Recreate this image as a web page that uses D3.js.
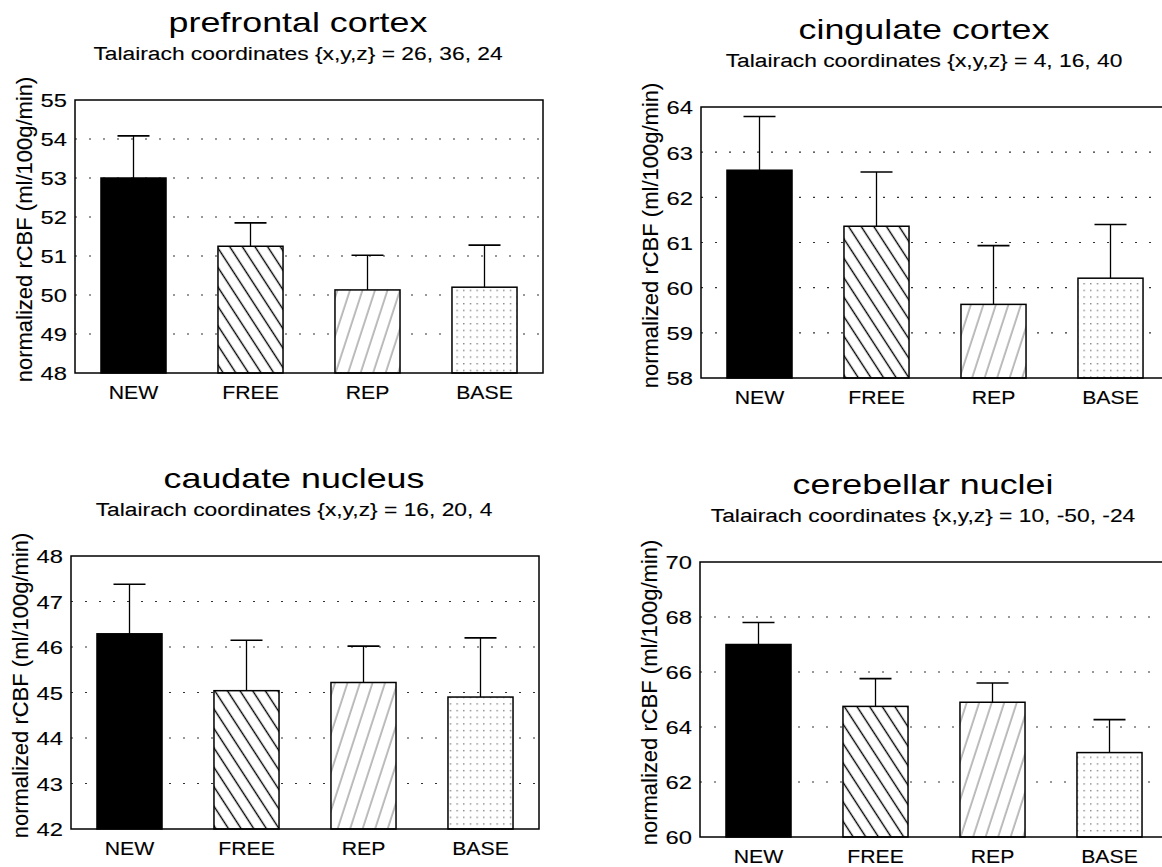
<!DOCTYPE html>
<html>
<head>
<meta charset="utf-8">
<script src="https://cdn.jsdelivr.net/npm/d3@7"></script>
<style>
    body { margin: 0; background: #fff; }
    svg { display: block; font-family: 'Liberation Sans', Arial, Helvetica, sans-serif; }
    text.lbl { stroke: #000; stroke-width: 0.12px; }
</style>
</head>
<body>
<svg id="chart" width="1162" height="867"></svg>
<script>
// conditions and regions
var conditions = ["NEW", "FREE", "REP", "BASE"];
var regions = ["prefrontal cortex", "cingulate cortex", "caudate nucleus", "cerebellar nuclei"];
var coordinates = ["26, 36, 24", "4, 16, 40", "16, 20, 4", "10, -50, -24"];

// mean rCBF and upper error (ml/100g/min)
var prefrontalMean = [53.0, 51.25, 50.13, 50.2];
var prefrontalErr  = [1.08, 0.6, 0.89, 1.08];
var cingulateMean  = [62.6, 61.36, 59.63, 60.21];
var cingulateErr   = [1.19, 1.2, 1.3, 1.19];
var caudateMean    = [46.29, 45.04, 45.22, 44.9];
var caudateErr     = [1.09, 1.11, 0.8, 1.3];
var cerebellarMean = [67.0, 64.75, 64.9, 63.07];
var cerebellarErr  = [0.8, 1.01, 0.7, 1.2];

// y axis ranges and tick labels
var prefrontalTicks = [48, 49, 50, 51, 52, 53, 54, 55];
var cingulateTicks  = [58, 59, 60, 61, 62, 63, 64];
var caudateTicks    = [42, 43, 44, 45, 46, 47, 48];
var cerebellarTicks = [60, 62, 64, 66, 68, 70];

var means = [prefrontalMean, cingulateMean, caudateMean, cerebellarMean];
var errs = [prefrontalErr, cingulateErr, caudateErr, cerebellarErr];
var ticks = [prefrontalTicks, cingulateTicks, caudateTicks, cerebellarTicks];

// frame position of each panel
var layout = [
    {left: 75, top: 100, bottom: 373},
    {left: 701, top: 107, bottom: 378},
    {left: 71, top: 556, bottom: 829},
    {left: 700, top: 562, bottom: 837}
];
var plotW = 468;

var svg = d3.select("#chart");
svg.append("rect").attr("width", 1162).attr("height", 867).attr("fill", "#fff");

// fill patterns
var defs = svg.append("defs");
defs.append("pattern").attr("id", "hatchFree")
    .attr("patternUnits", "userSpaceOnUse")
    .attr("width", 10.6).attr("height", 10)
    .attr("patternTransform", "rotate(-33)")
  .append("line")
    .attr("x1", 5.3).attr("x2", 5.3).attr("y1", -1).attr("y2", 11)
    .attr("stroke", "#000").attr("stroke-width", 1.4);

defs.append("pattern").attr("id", "hatchRep")
    .attr("patternUnits", "userSpaceOnUse")
    .attr("width", 11.9).attr("height", 10)
    .attr("patternTransform", "rotate(18)")
  .append("line")
    .attr("x1", 6).attr("x2", 6).attr("y1", -1).attr("y2", 11)
    .attr("stroke", "#555").attr("stroke-width", 0.8);

defs.append("pattern").attr("id", "dotsBase")
    .attr("patternUnits", "userSpaceOnUse")
    .attr("width", 6.67).attr("height", 6.67)
  .append("rect")
    .attr("x", 3).attr("y", 3).attr("width", 1.2).attr("height", 1.2)
    .attr("fill", "#555");

var fills = {NEW: "#000", FREE: "url(#hatchFree)", REP: "url(#hatchRep)", BASE: "url(#dotsBase)"};

regions.forEach(function(region, p) {
    var L = layout[p];
    var t = ticks[p];
    var cx = L.left + 223;

    var x = d3.scaleBand()
        .domain(conditions)
        .range([L.left, L.left + plotW])
        .paddingInner(0.444)
        .paddingOuter(0.222);
    var y = d3.scaleLinear()
        .domain([t[0], t[t.length - 1]])
        .range([L.bottom, L.top]);

    var g = svg.append("g");

    // titles
    g.append("text")
        .attr("transform", "translate(" + cx + "," + (L.top - 68) + ") scale(1.28,1)")
        .attr("text-anchor", "middle")
        .style("font-size", "28px")
        .text(region);
    g.append("text")
        .attr("class", "lbl")
        .attr("transform", "translate(" + cx + "," + (L.top - 40) + ") scale(1.2,1)")
        .attr("text-anchor", "middle")
        .style("font-size", "19px")
        .text("Talairach coordinates {x,y,z} = " + coordinates[p]);

    // dotted grid lines
    g.selectAll("line.grid")
        .data(t.slice(1, -1))
        .enter().append("line")
        .attr("class", "grid")
        .attr("x1", L.left).attr("x2", L.left + plotW)
        .attr("y1", function(d) { return y(d); })
        .attr("y2", function(d) { return y(d); })
        .attr("stroke", "#333")
        .attr("stroke-width", 1.1)
        .attr("stroke-dasharray", "2,12");

    var rows = conditions.map(function(c, i) {
        return {cond: c, mean: means[p][i], err: errs[p][i]};
    });

    // error bars (upper only)
    var eb = g.selectAll("g.err").data(rows).enter().append("g").attr("class", "err");
    eb.append("line")
        .attr("x1", function(d) { return x(d.cond) + x.bandwidth() / 2; })
        .attr("x2", function(d) { return x(d.cond) + x.bandwidth() / 2; })
        .attr("y1", function(d) { return y(d.mean); })
        .attr("y2", function(d) { return y(d.mean + d.err); })
        .attr("stroke", "#000").attr("stroke-width", 1.3);
    eb.append("line")
        .attr("x1", function(d) { return x(d.cond) + x.bandwidth() / 2 - 16; })
        .attr("x2", function(d) { return x(d.cond) + x.bandwidth() / 2 + 16; })
        .attr("y1", function(d) { return y(d.mean + d.err); })
        .attr("y2", function(d) { return y(d.mean + d.err); })
        .attr("stroke", "#000").attr("stroke-width", 1.6);

    // bars
    g.selectAll("rect.bg").data(rows).enter().append("rect")
        .attr("x", function(d) { return x(d.cond); })
        .attr("y", function(d) { return y(d.mean); })
        .attr("width", x.bandwidth())
        .attr("height", function(d) { return y(t[0]) - y(d.mean); })
        .attr("fill", "#fff");
    g.selectAll("rect.bar").data(rows).enter().append("rect")
        .attr("class", "bar")
        .attr("x", function(d) { return x(d.cond); })
        .attr("y", function(d) { return y(d.mean); })
        .attr("width", x.bandwidth())
        .attr("height", function(d) { return y(t[0]) - y(d.mean); })
        .attr("fill", function(d) { return fills[d.cond]; })
        .attr("stroke", "#000").attr("stroke-width", 1.5);

    // frame
    g.append("rect")
        .attr("x", L.left).attr("y", L.top)
        .attr("width", plotW).attr("height", L.bottom - L.top)
        .attr("fill", "none").attr("stroke", "#000").attr("stroke-width", 1.5);

    // y axis labels
    var yAxis = g.append("g")
        .attr("transform", "translate(" + L.left + ",0)")
        .call(d3.axisLeft(y).tickValues(t).tickSize(0).tickFormat(d3.format("d")));
    yAxis.select(".domain").remove();
    yAxis.selectAll("text")
        .attr("class", "lbl")
        .attr("x", 0).attr("dy", "0.36em")
        .attr("transform", "translate(-8,0) scale(1.25,1)")
        .attr("fill", "#000")
        .style("font-size", "19px")
        .style("font-family", "'Liberation Sans', Arial, Helvetica, sans-serif");

    // x axis labels
    var xAxis = g.append("g")
        .attr("transform", "translate(0," + L.bottom + ")")
        .call(d3.axisBottom(x).tickSize(0));
    xAxis.select(".domain").remove();
    xAxis.selectAll("text")
        .attr("class", "lbl")
        .attr("y", 0).attr("dy", 0)
        .attr("transform", "translate(0,26) scale(1.18,1)")
        .attr("fill", "#000")
        .style("font-size", "18px")
        .style("font-family", "'Liberation Sans', Arial, Helvetica, sans-serif");

    // y axis title
    g.append("text")
        .attr("class", "lbl")
        .attr("transform", "translate(" + (L.left - 43) + "," + ((L.top + L.bottom) / 2 - 7) + ") rotate(-90)")
        .attr("text-anchor", "middle")
        .style("font-size", "22px")
        .text("normalized rCBF (ml/100g/min)");
});
</script>
</body>
</html>
